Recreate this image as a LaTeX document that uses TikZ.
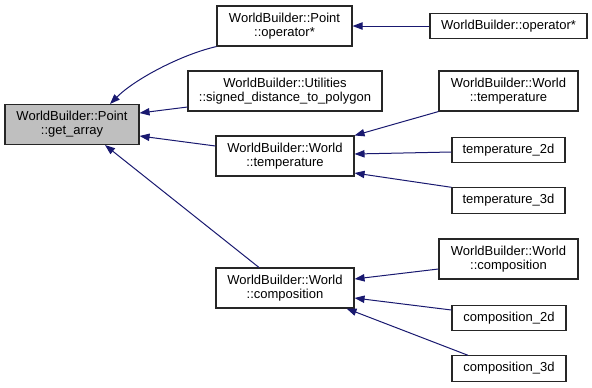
\documentclass[tikz,border=0pt]{standalone}
\usepackage{fontspec}
\setmainfont{Liberation Sans}
\usetikzlibrary{arrows.meta}
\definecolor{edgeblue}{HTML}{191970}
\definecolor{hlgray}{HTML}{BFBFBF}
\tikzset{
  fnbox/.style={draw=black!85, line width=0.8pt, fill=white, align=center, inner sep=0pt,
    font=\fontsize{9.75}{10.5}\selectfont},
  wide/.style={minimum height=30pt},
  flat/.style={minimum height=19pt},
  calls/.style={draw=edgeblue, line width=0.75pt, -{Triangle[length=7.5pt,width=5.5pt]}}
}
\begin{document}
\begin{tikzpicture}[x=0.75pt, y=-0.75pt]
    \fill[white] (0,0) rectangle (592,387);
    \useasboundingbox (0,0) rectangle (592,387);
    % the function and its direct callers
    \node[fnbox, wide, fill=hlgray, minimum width=100.5pt] (getarray) at (72,124.5) {WorldBuilder::Point\\::get\_array};
    \node[fnbox, wide, minimum width=101.25pt] (pointmul) at (284.5,26) {WorldBuilder::Point\\::operator*};
    \node[fnbox, wide, minimum width=145.5pt] (signeddist) at (285,91) {WorldBuilder::Utilities\\::signed\_distance\_to\_polygon};
    \node[fnbox, wide, minimum width=103.5pt] (temp) at (285,156) {WorldBuilder::World\\::temperature};
    \node[fnbox, wide, minimum width=103.5pt] (comp) at (285,288) {WorldBuilder::World\\::composition};
    % second level
    \node[fnbox, flat, minimum width=117.75pt] (opmul) at (508.5,26) {WorldBuilder::operator*};
    \node[fnbox, wide, minimum width=104.25pt] (tempw) at (508.5,91) {WorldBuilder::World\\::temperature};
    \node[fnbox, flat, minimum width=84.75pt] (temptwo) at (508.5,150) {temperature\_2d};
    \node[fnbox, flat, minimum width=84.75pt] (tempthree) at (508.5,200.5) {temperature\_3d};
    \node[fnbox, wide, minimum width=104.25pt] (compw) at (508.5,259) {WorldBuilder::World\\::composition};
    \node[fnbox, flat, minimum width=85.5pt] (comptwo) at (509,318) {composition\_2d};
    \node[fnbox, flat, minimum width=85.5pt] (compthree) at (509,368.5) {composition\_3d};

    % calls into get_array
    \draw[calls] (pointmul.south west) .. controls +(-35,8) and +(25,-25) .. ([xshift=28.5pt]getarray.north);
    \draw[calls] ([yshift=-12pt]signeddist.west) -- ([yshift=8.6pt]getarray.east);
    \draw[calls] ([yshift=7.5pt]temp.west) -- ([yshift=-8.6pt]getarray.east);
    \draw[calls] ([xshift=-19.5pt]comp.north) -- ([xshift=24.75pt]getarray.south);
    % callers of the callers
    \draw[calls] (opmul.west) -- (pointmul.east);
    \draw[calls] (tempw.south west) -- (temp.north east);
    \draw[calls] ([yshift=-1.5pt]temptwo.west) -- ([yshift=1.5pt]temp.east);
    \draw[calls] (tempthree.north west) -- ([yshift=-12.75pt]temp.east);
    \draw[calls] ([yshift=-7.5pt]compw.west) -- ([yshift=6.75pt]comp.east);
    \draw[calls] ([yshift=6pt]comptwo.west) -- ([yshift=-7.5pt]comp.east);
    \draw[calls] ([xshift=-30.75pt]compthree.north) -- ([xshift=-6pt]comp.south east);
\end{tikzpicture}
\end{document}
